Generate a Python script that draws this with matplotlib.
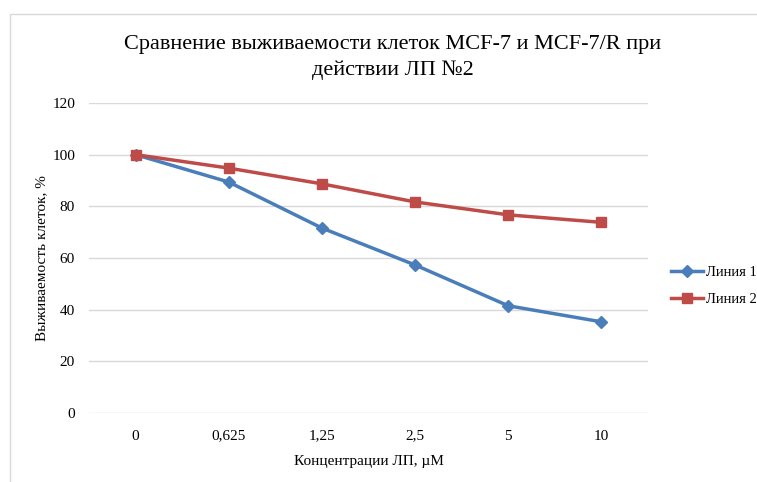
import matplotlib.pyplot as plt
from matplotlib.patches import Rectangle

categories = ["0", "0,625", "1,25", "2,5", "5", "10"]
line1 = [100, 89.4, 71.6, 57.3, 41.5, 35.3]
line2 = [100, 94.8, 88.7, 81.7, 76.7, 73.8]
yticks = [0, 20, 40, 60, 80, 100, 120]
title = "Сравнение выживаемости клеток MCF-7 и MCF-7/R при\nдействии ЛП №2"

plt.rcParams['font.family'] = ['Liberation Serif', 'DejaVu Serif']

fig = plt.figure(figsize=(7.57, 4.82), dpi=100)
W, H = 757, 482
ax = fig.add_axes([89 / W, 1 - 413 / H, (648 - 89) / W, (413 - 103) / H])

# chart border (only top and left edges are inside the image)
fig.patches.append(Rectangle((9.5 / W, -0.1), 1.2, 1 - 13.5 / H + 0.1,
                             transform=fig.transFigure, fill=False,
                             edgecolor='#d9d9d9', linewidth=1))

x = range(len(categories))
ax.plot(x, line1, color='#4a7ebb', linewidth=2.5, marker='D', markersize=6,
        label='Линия 1')
ax.plot(x, line2, color='#be4b48', linewidth=2.5, marker='s', markersize=7.5,
        label='Линия 2')

ax.set_xlim(-0.5, len(categories) - 0.5)
ax.set_ylim(0, 120)
ax.set_xticks(list(x))
ax.set_xticklabels(categories)
ax.set_yticks(yticks)
ax.tick_params(length=0, labelsize=11, colors='black', pad=12)
ax.tick_params(axis='y', pad=10)
ax.yaxis.grid(True, color='#d9d9d9', linewidth=1)
ax.set_axisbelow(True)
for s in ax.spines.values():
    s.set_visible(False)

ax.set_xlabel('Концентрации ЛП, µМ', fontsize=11, labelpad=9)
ax.set_ylabel('Выживаемость клеток, %', fontsize=11, labelpad=3)
t1, t2 = title.split("\n")
fig.text(393 / W, 1 - 45 / H, t1, ha='center', va='center', fontsize=16)
fig.text(393 / W, 1 - 70 / H, t2, ha='center', va='center', fontsize=16)

ax.legend(loc='center left', bbox_to_anchor=(1.018, 0.41), frameon=False,
          fontsize=10.5, handlelength=2.2, labelspacing=0.92, handletextpad=0.2)

fig.savefig('out.png', dpi=100)
